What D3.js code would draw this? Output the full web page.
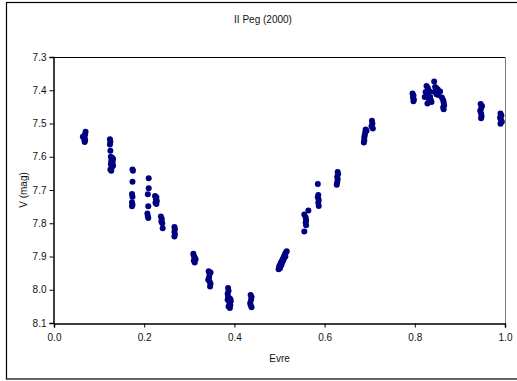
<!DOCTYPE html>
<html>
<head>
<meta charset="utf-8">
<script src="https://cdn.jsdelivr.net/npm/d3@7"></script>
<style>
  html, body { margin: 0; padding: 0; background: #fff; }
  svg { display: block; }
  text { font-family: "Liberation Sans", Arial, sans-serif; fill: #111; }
</style>
</head>
<body>
<svg id="chart" width="517" height="381"></svg>
<script>
// Light curve of II Peg, season 2000: orbital phase vs V magnitude
const title = "II Peg (2000)";
const xLabel = "Evre";
const yLabel = "V (mag)";
const xTicks = [0.0, 0.2, 0.4, 0.6, 0.8, 1.0];
const yTicks = [7.3, 7.4, 7.5, 7.6, 7.7, 7.8, 7.9, 8.0, 8.1];

const phase = [
  0.070, 0.069, 0.066, 0.064, 0.068, 0.067, 0.069, 0.068,
  0.124, 0.125, 0.124, 0.125, 0.126, 0.129, 0.131, 0.127, 0.130, 0.126, 0.131, 0.128, 0.125, 0.127,
  0.174, 0.175, 0.174, 0.173, 0.174, 0.173, 0.174, 0.173,
  0.210, 0.210, 0.208, 0.209, 0.207, 0.208, 0.209,
  0.224, 0.227, 0.226, 0.228, 0.225, 0.227,
  0.237, 0.239, 0.238, 0.240, 0.241,
  0.267, 0.268, 0.267, 0.268, 0.267,
  0.309, 0.310, 0.312, 0.314, 0.310, 0.312,
  0.343, 0.347, 0.345, 0.344, 0.342, 0.345, 0.347, 0.346,
  0.386, 0.387, 0.385, 0.386, 0.388, 0.391, 0.385, 0.392, 0.389, 0.391, 0.387, 0.390,
  0.436, 0.438, 0.437, 0.435, 0.436, 0.438,
  0.498, 0.499, 0.500, 0.501, 0.502, 0.503, 0.504, 0.505, 0.506, 0.507, 0.508, 0.509, 0.510, 0.511, 0.512, 0.513, 0.514, 0.516,
  0.555, 0.555, 0.564, 0.558, 0.559, 0.558, 0.559,
  0.585, 0.586, 0.585, 0.587, 0.586, 0.587,
  0.629, 0.630, 0.628, 0.629, 0.628, 0.627,
  0.691, 0.690, 0.689, 0.688, 0.688, 0.687, 0.693, 0.705, 0.706, 0.704, 0.707,
  0.795, 0.797, 0.796, 0.798, 0.797,
  0.826, 0.829, 0.830, 0.824, 0.833, 0.822, 0.827, 0.834, 0.831, 0.837, 0.835, 0.828, 0.843,
  0.845, 0.848, 0.851, 0.844, 0.856, 0.852, 0.848, 0.860, 0.863, 0.864, 0.865, 0.863, 0.864,
  0.946, 0.949, 0.947, 0.945, 0.947, 0.948, 0.947,
  0.990, 0.992, 0.989, 0.991, 0.993, 0.990
];

const vmag = [
  7.525, 7.532, 7.538, 7.540, 7.542, 7.547, 7.550, 7.556,
  7.547, 7.555, 7.563, 7.582, 7.600, 7.603, 7.607, 7.612, 7.617, 7.622, 7.627, 7.632, 7.638, 7.642,
  7.638, 7.642, 7.675, 7.712, 7.720, 7.737, 7.744, 7.749,
  7.665, 7.695, 7.713, 7.749, 7.771, 7.778, 7.784,
  7.718, 7.722, 7.728, 7.733, 7.738, 7.742,
  7.780, 7.787, 7.795, 7.800, 7.815,
  7.811, 7.818, 7.826, 7.834, 7.840,
  7.892, 7.898, 7.903, 7.908, 7.912, 7.918,
  7.944, 7.948, 7.952, 7.962, 7.970, 7.975, 7.982, 7.990,
  7.995, 8.003, 8.012, 8.020, 8.025, 8.028, 8.030, 8.034, 8.040, 8.046, 8.050, 8.055,
  8.016, 8.022, 8.030, 8.040, 8.046, 8.053,
  7.938, 7.932, 7.928, 7.935, 7.924, 7.919, 7.926, 7.914, 7.918, 7.908, 7.912, 7.903, 7.906, 7.898, 7.893, 7.900, 7.889, 7.884,
  7.825, 7.774, 7.762, 7.783, 7.791, 7.798, 7.806,
  7.682, 7.715, 7.722, 7.730, 7.738, 7.748,
  7.646, 7.652, 7.660, 7.668, 7.677, 7.684,
  7.518, 7.527, 7.535, 7.542, 7.550, 7.557, 7.522, 7.492, 7.500, 7.508, 7.515,
  7.410, 7.416, 7.422, 7.428, 7.433,
  7.387, 7.393, 7.399, 7.405, 7.404, 7.420, 7.414, 7.420, 7.426, 7.435, 7.428, 7.440, 7.374,
  7.390, 7.394, 7.398, 7.405, 7.404, 7.414, 7.412, 7.422, 7.430, 7.437, 7.445, 7.451, 7.457,
  7.441, 7.447, 7.455, 7.462, 7.470, 7.478, 7.484,
  7.470, 7.476, 7.483, 7.489, 7.495, 7.501
];

const points = phase.map((p, i) => ({ p, v: vmag[i] }));

const svg = d3.select("#chart");
const plot = { left: 54, top: 57, right: 505, bottom: 323 };

// Outer chart frame
svg.append("rect")
  .attr("x", 6.5).attr("y", 2.5)
  .attr("width", 516).attr("height", 376.5)
  .attr("fill", "#fff").attr("stroke", "#000").attr("stroke-width", 1.2);

const x = d3.scaleLinear().domain([0, 1]).range([plot.left, plot.right]);
const y = d3.scaleLinear().domain([7.3, 8.1]).range([plot.top, plot.bottom]);

// Plot area border: top black, right grey
svg.append("line")
  .attr("x1", plot.left).attr("x2", plot.right)
  .attr("y1", plot.top + 0.5).attr("y2", plot.top + 0.5)
  .attr("stroke", "#000");
svg.append("line")
  .attr("x1", plot.right + 0.5).attr("x2", plot.right + 0.5)
  .attr("y1", plot.top).attr("y2", plot.bottom)
  .attr("stroke", "#808080");

// Axes
const xAxis = svg.append("g")
  .attr("transform", `translate(0,${plot.bottom + 0.5})`)
  .call(d3.axisBottom(x).tickValues(xTicks).tickFormat(d3.format(".1f")).tickSize(4).tickPadding(6));
const yAxis = svg.append("g")
  .attr("transform", `translate(${plot.left - 0.5},0)`)
  .call(d3.axisLeft(y).tickValues(yTicks).tickFormat(d3.format(".1f")).tickSize(4).tickPadding(3));

[xAxis, yAxis].forEach(g => {
  g.select(".domain").attr("stroke", "#000").attr("stroke-width", 1.5);
  g.selectAll(".tick line").attr("stroke", "#000");
  g.selectAll(".tick text")
    .attr("font-family", "Liberation Sans, Arial, sans-serif")
    .attr("font-size", 10).attr("fill", "#111");
});

// Observations
svg.append("g")
  .selectAll("circle")
  .data(points)
  .join("circle")
  .attr("cx", d => x(d.p))
  .attr("cy", d => y(d.v))
  .attr("r", 3)
  .attr("fill", "#000080");

// Titles
svg.append("text")
  .attr("x", 263).attr("y", 23)
  .attr("text-anchor", "middle").attr("font-size", 10)
  .text(title);
svg.append("text")
  .attr("x", (plot.left + plot.right) / 2).attr("y", 362)
  .attr("text-anchor", "middle").attr("font-size", 10)
  .text(xLabel);
svg.append("text")
  .attr("transform", `translate(27,${(plot.top + plot.bottom) / 2}) rotate(-90)`)
  .attr("text-anchor", "middle").attr("font-size", 10)
  .text(yLabel);
</script>
</body>
</html>
